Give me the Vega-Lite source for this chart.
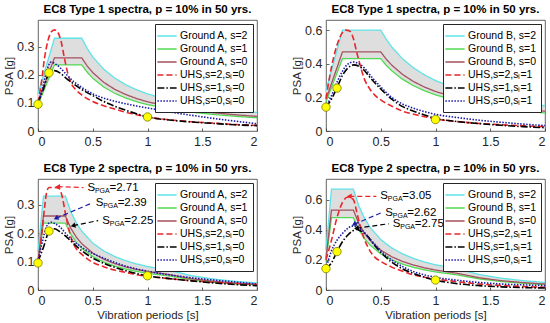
{
"$schema": "https://vega.github.io/schema/vega-lite/v6.json",
"padding": {"left": 2, "top": 3, "right": 0, "bottom": 0},
"datasets": {
"ec8_1": [
{"T":0,"s2":0.132,"s1":0.094,"s0":0.104},{"T":0.15,"s2":0.33,"s1":0.235,"s0":0.26},{"T":0.4,"s2":0.33,"s1":0.235,"s0":0.26},{"T":0.45,"s2":0.2933,"s1":0.2089,"s0":0.2311},{"T":0.5,"s2":0.264,"s1":0.188,"s0":0.208},{"T":0.6,"s2":0.22,"s1":0.1567,"s0":0.1733},{"T":0.7,"s2":0.1886,"s1":0.1343,"s0":0.1486},{"T":0.8,"s2":0.165,"s1":0.1175,"s0":0.13},{"T":0.9,"s2":0.1467,"s1":0.1044,"s0":0.1156},{"T":1,"s2":0.132,"s1":0.094,"s0":0.104},{"T":1.2,"s2":0.11,"s1":0.0783,"s0":0.0867},{"T":1.4,"s2":0.0943,"s1":0.0671,"s0":0.0743},{"T":1.6,"s2":0.0825,"s1":0.0588,"s0":0.065},{"T":1.8,"s2":0.0733,"s1":0.0522,"s0":0.0578},{"T":2,"s2":0.066,"s1":0.047,"s0":0.052}],
"ec8_2": [
{"T":0,"s2":0.24,"s1":0.172,"s0":0.188},{"T":0.15,"s2":0.6,"s1":0.43,"s0":0.47},{"T":0.5,"s2":0.6,"s1":0.43,"s0":0.47},{"T":0.55,"s2":0.5455,"s1":0.3909,"s0":0.4273},{"T":0.6,"s2":0.5,"s1":0.3583,"s0":0.3917},{"T":0.7,"s2":0.4286,"s1":0.3071,"s0":0.3357},{"T":0.8,"s2":0.375,"s1":0.2688,"s0":0.2938},{"T":0.9,"s2":0.3333,"s1":0.2389,"s0":0.2611},{"T":1,"s2":0.3,"s1":0.215,"s0":0.235},{"T":1.2,"s2":0.25,"s1":0.1792,"s0":0.1958},{"T":1.4,"s2":0.2143,"s1":0.1536,"s0":0.1679},{"T":1.6,"s2":0.1875,"s1":0.1344,"s0":0.1469},{"T":1.8,"s2":0.1667,"s1":0.1194,"s0":0.1306},{"T":2,"s2":0.15,"s1":0.1075,"s0":0.1175}],
"ec8_3": [
{"T":0,"s2":0.132,"s1":0.094,"s0":0.104},{"T":0.05,"s2":0.33,"s1":0.235,"s0":0.26},{"T":0.25,"s2":0.33,"s1":0.235,"s0":0.26},{"T":0.3,"s2":0.275,"s1":0.1958,"s0":0.2167},{"T":0.35,"s2":0.2357,"s1":0.1679,"s0":0.1857},{"T":0.4,"s2":0.2063,"s1":0.1469,"s0":0.1625},{"T":0.5,"s2":0.165,"s1":0.1175,"s0":0.13},{"T":0.6,"s2":0.1375,"s1":0.0979,"s0":0.1083},{"T":0.7,"s2":0.1179,"s1":0.0839,"s0":0.0929},{"T":0.8,"s2":0.1031,"s1":0.0734,"s0":0.0813},{"T":0.9,"s2":0.0917,"s1":0.0653,"s0":0.0722},{"T":1,"s2":0.0825,"s1":0.0588,"s0":0.065},{"T":1.2,"s2":0.0688,"s1":0.049,"s0":0.0542},{"T":1.4,"s2":0.0505,"s1":0.036,"s0":0.0398},{"T":1.6,"s2":0.0387,"s1":0.0275,"s0":0.0305},{"T":1.8,"s2":0.0306,"s1":0.0218,"s0":0.0241},{"T":2,"s2":0.0248,"s1":0.0176,"s0":0.0195}],
"ec8_4": [
{"T":0,"s2":0.268,"s1":0.192,"s0":0.212},{"T":0.05,"s2":0.67,"s1":0.48,"s0":0.53},{"T":0.25,"s2":0.67,"s1":0.48,"s0":0.53},{"T":0.3,"s2":0.5583,"s1":0.4,"s0":0.4417},{"T":0.35,"s2":0.4786,"s1":0.3429,"s0":0.3786},{"T":0.4,"s2":0.4188,"s1":0.3,"s0":0.3313},{"T":0.5,"s2":0.335,"s1":0.24,"s0":0.265},{"T":0.6,"s2":0.2792,"s1":0.2,"s0":0.2208},{"T":0.7,"s2":0.2393,"s1":0.1714,"s0":0.1893},{"T":0.8,"s2":0.2094,"s1":0.15,"s0":0.1656},{"T":0.9,"s2":0.1861,"s1":0.1333,"s0":0.1472},{"T":1,"s2":0.1675,"s1":0.12,"s0":0.1325},{"T":1.2,"s2":0.1396,"s1":0.1,"s0":0.1104},{"T":1.4,"s2":0.1026,"s1":0.0735,"s0":0.0811},{"T":1.6,"s2":0.0785,"s1":0.0563,"s0":0.0621},{"T":1.8,"s2":0.062,"s1":0.0444,"s0":0.0491},{"T":2,"s2":0.0503,"s1":0.036,"s0":0.0398}],
"uhs_1": [
{"k":"u2","T":0,"psa":0.1},{"k":"u2","T":0.03,"psa":0.17},{"k":"u2","T":0.06,"psa":0.26},{"k":"u2","T":0.09,"psa":0.32},{"k":"u2","T":0.12,"psa":0.352},{"k":"u2","T":0.15,"psa":0.36},{"k":"u2","T":0.18,"psa":0.352},{"k":"u2","T":0.21,"psa":0.32},{"k":"u2","T":0.24,"psa":0.262},{"k":"u2","T":0.27,"psa":0.208},{"k":"u2","T":0.3,"psa":0.172},{"k":"u2","T":0.35,"psa":0.145},{"k":"u2","T":0.4,"psa":0.128},{"k":"u2","T":0.5,"psa":0.105},{"k":"u2","T":0.6,"psa":0.09},{"k":"u2","T":0.7,"psa":0.078},{"k":"u2","T":0.8,"psa":0.067},{"k":"u2","T":0.9,"psa":0.058},{"k":"u2","T":1,"psa":0.05},{"k":"u2","T":1.2,"psa":0.04},{"k":"u2","T":1.4,"psa":0.033},{"k":"u2","T":1.6,"psa":0.028},{"k":"u2","T":1.8,"psa":0.023},{"k":"u2","T":2,"psa":0.02},
{"k":"u1","T":0,"psa":0.1},{"k":"u1","T":0.05,"psa":0.15},{"k":"u1","T":0.1,"psa":0.205},{"k":"u1","T":0.15,"psa":0.215},{"k":"u1","T":0.2,"psa":0.207},{"k":"u1","T":0.25,"psa":0.19},{"k":"u1","T":0.3,"psa":0.175},{"k":"u1","T":0.4,"psa":0.148},{"k":"u1","T":0.5,"psa":0.126},{"k":"u1","T":0.6,"psa":0.105},{"k":"u1","T":0.7,"psa":0.088},{"k":"u1","T":0.8,"psa":0.074},{"k":"u1","T":0.9,"psa":0.061},{"k":"u1","T":1,"psa":0.05},{"k":"u1","T":1.2,"psa":0.039},{"k":"u1","T":1.4,"psa":0.032},{"k":"u1","T":1.6,"psa":0.027},{"k":"u1","T":1.8,"psa":0.022},{"k":"u1","T":2,"psa":0.019},
{"k":"u0","T":0,"psa":0.1},{"k":"u0","T":0.04,"psa":0.15},{"k":"u0","T":0.08,"psa":0.215},{"k":"u0","T":0.12,"psa":0.245},{"k":"u0","T":0.16,"psa":0.238},{"k":"u0","T":0.2,"psa":0.226},{"k":"u0","T":0.25,"psa":0.205},{"k":"u0","T":0.3,"psa":0.185},{"k":"u0","T":0.4,"psa":0.155},{"k":"u0","T":0.5,"psa":0.132},{"k":"u0","T":0.6,"psa":0.117},{"k":"u0","T":0.7,"psa":0.106},{"k":"u0","T":0.8,"psa":0.097},{"k":"u0","T":0.9,"psa":0.089},{"k":"u0","T":1,"psa":0.082},{"k":"u0","T":1.2,"psa":0.068},{"k":"u0","T":1.4,"psa":0.056},{"k":"u0","T":1.6,"psa":0.045},{"k":"u0","T":1.8,"psa":0.035},{"k":"u0","T":2,"psa":0.026}],
"uhs_2": [
{"k":"u2","T":0,"psa":0.193},{"k":"u2","T":0.05,"psa":0.38},{"k":"u2","T":0.1,"psa":0.51},{"k":"u2","T":0.15,"psa":0.585},{"k":"u2","T":0.18,"psa":0.6},{"k":"u2","T":0.22,"psa":0.592},{"k":"u2","T":0.25,"psa":0.55},{"k":"u2","T":0.28,"psa":0.47},{"k":"u2","T":0.31,"psa":0.395},{"k":"u2","T":0.35,"psa":0.31},{"k":"u2","T":0.4,"psa":0.25},{"k":"u2","T":0.45,"psa":0.21},{"k":"u2","T":0.5,"psa":0.185},{"k":"u2","T":0.6,"psa":0.148},{"k":"u2","T":0.7,"psa":0.118},{"k":"u2","T":0.8,"psa":0.1},{"k":"u2","T":0.9,"psa":0.085},{"k":"u2","T":1,"psa":0.072},{"k":"u2","T":1.2,"psa":0.056},{"k":"u2","T":1.4,"psa":0.045},{"k":"u2","T":1.6,"psa":0.037},{"k":"u2","T":1.8,"psa":0.031},{"k":"u2","T":2,"psa":0.026},
{"k":"u1","T":0,"psa":0.142},{"k":"u1","T":0.05,"psa":0.19},{"k":"u1","T":0.1,"psa":0.257},{"k":"u1","T":0.15,"psa":0.33},{"k":"u1","T":0.2,"psa":0.375},{"k":"u1","T":0.25,"psa":0.393},{"k":"u1","T":0.3,"psa":0.385},{"k":"u1","T":0.35,"psa":0.36},{"k":"u1","T":0.4,"psa":0.32},{"k":"u1","T":0.5,"psa":0.25},{"k":"u1","T":0.6,"psa":0.19},{"k":"u1","T":0.7,"psa":0.145},{"k":"u1","T":0.8,"psa":0.118},{"k":"u1","T":0.9,"psa":0.095},{"k":"u1","T":1,"psa":0.075},{"k":"u1","T":1.2,"psa":0.056},{"k":"u1","T":1.4,"psa":0.044},{"k":"u1","T":1.6,"psa":0.034},{"k":"u1","T":1.8,"psa":0.026},{"k":"u1","T":2,"psa":0.02},
{"k":"u0","T":0,"psa":0.142},{"k":"u0","T":0.05,"psa":0.21},{"k":"u0","T":0.1,"psa":0.29},{"k":"u0","T":0.15,"psa":0.355},{"k":"u0","T":0.2,"psa":0.398},{"k":"u0","T":0.25,"psa":0.41},{"k":"u0","T":0.3,"psa":0.4},{"k":"u0","T":0.35,"psa":0.375},{"k":"u0","T":0.4,"psa":0.335},{"k":"u0","T":0.5,"psa":0.262},{"k":"u0","T":0.6,"psa":0.2},{"k":"u0","T":0.7,"psa":0.16},{"k":"u0","T":0.8,"psa":0.135},{"k":"u0","T":0.9,"psa":0.115},{"k":"u0","T":1,"psa":0.099},{"k":"u0","T":1.2,"psa":0.08},{"k":"u0","T":1.4,"psa":0.064},{"k":"u0","T":1.6,"psa":0.052},{"k":"u0","T":1.8,"psa":0.041},{"k":"u0","T":2,"psa":0.032}],
"uhs_3": [
{"k":"u2","T":0,"psa":0.1},{"k":"u2","T":0.03,"psa":0.18},{"k":"u2","T":0.06,"psa":0.29},{"k":"u2","T":0.08,"psa":0.345},{"k":"u2","T":0.1,"psa":0.36},{"k":"u2","T":0.15,"psa":0.36},{"k":"u2","T":0.19,"psa":0.358},{"k":"u2","T":0.22,"psa":0.33},{"k":"u2","T":0.25,"psa":0.27},{"k":"u2","T":0.28,"psa":0.215},{"k":"u2","T":0.31,"psa":0.175},{"k":"u2","T":0.35,"psa":0.145},{"k":"u2","T":0.4,"psa":0.125},{"k":"u2","T":0.5,"psa":0.097},{"k":"u2","T":0.6,"psa":0.082},{"k":"u2","T":0.7,"psa":0.07},{"k":"u2","T":0.8,"psa":0.062},{"k":"u2","T":0.9,"psa":0.054},{"k":"u2","T":1,"psa":0.048},{"k":"u2","T":1.2,"psa":0.04},{"k":"u2","T":1.4,"psa":0.033},{"k":"u2","T":1.6,"psa":0.027},{"k":"u2","T":1.8,"psa":0.023},{"k":"u2","T":2,"psa":0.019},
{"k":"u1","T":0,"psa":0.1},{"k":"u1","T":0.05,"psa":0.15},{"k":"u1","T":0.1,"psa":0.205},{"k":"u1","T":0.15,"psa":0.215},{"k":"u1","T":0.2,"psa":0.205},{"k":"u1","T":0.25,"psa":0.19},{"k":"u1","T":0.3,"psa":0.172},{"k":"u1","T":0.4,"psa":0.138},{"k":"u1","T":0.5,"psa":0.112},{"k":"u1","T":0.6,"psa":0.094},{"k":"u1","T":0.7,"psa":0.08},{"k":"u1","T":0.8,"psa":0.068},{"k":"u1","T":0.9,"psa":0.058},{"k":"u1","T":1,"psa":0.05},{"k":"u1","T":1.2,"psa":0.04},{"k":"u1","T":1.4,"psa":0.032},{"k":"u1","T":1.6,"psa":0.025},{"k":"u1","T":1.8,"psa":0.019},{"k":"u1","T":2,"psa":0.015},
{"k":"u0","T":0,"psa":0.1},{"k":"u0","T":0.04,"psa":0.17},{"k":"u0","T":0.08,"psa":0.225},{"k":"u0","T":0.12,"psa":0.238},{"k":"u0","T":0.16,"psa":0.232},{"k":"u0","T":0.2,"psa":0.222},{"k":"u0","T":0.25,"psa":0.2},{"k":"u0","T":0.3,"psa":0.18},{"k":"u0","T":0.4,"psa":0.15},{"k":"u0","T":0.5,"psa":0.128},{"k":"u0","T":0.6,"psa":0.112},{"k":"u0","T":0.7,"psa":0.097},{"k":"u0","T":0.8,"psa":0.084},{"k":"u0","T":0.9,"psa":0.074},{"k":"u0","T":1,"psa":0.066},{"k":"u0","T":1.2,"psa":0.053},{"k":"u0","T":1.4,"psa":0.043},{"k":"u0","T":1.6,"psa":0.035},{"k":"u0","T":1.8,"psa":0.028},{"k":"u0","T":2,"psa":0.021}],
"uhs_4": [
{"k":"u2","T":0,"psa":0.2},{"k":"u2","T":0.05,"psa":0.33},{"k":"u2","T":0.1,"psa":0.48},{"k":"u2","T":0.15,"psa":0.58},{"k":"u2","T":0.2,"psa":0.617},{"k":"u2","T":0.25,"psa":0.6},{"k":"u2","T":0.28,"psa":0.52},{"k":"u2","T":0.31,"psa":0.43},{"k":"u2","T":0.34,"psa":0.358},{"k":"u2","T":0.4,"psa":0.262},{"k":"u2","T":0.45,"psa":0.215},{"k":"u2","T":0.5,"psa":0.19},{"k":"u2","T":0.6,"psa":0.152},{"k":"u2","T":0.7,"psa":0.125},{"k":"u2","T":0.8,"psa":0.1},{"k":"u2","T":0.9,"psa":0.085},{"k":"u2","T":1,"psa":0.073},{"k":"u2","T":1.2,"psa":0.055},{"k":"u2","T":1.4,"psa":0.04},{"k":"u2","T":1.6,"psa":0.03},{"k":"u2","T":1.8,"psa":0.023},{"k":"u2","T":2,"psa":0.018},
{"k":"u1","T":0,"psa":0.142},{"k":"u1","T":0.05,"psa":0.18},{"k":"u1","T":0.1,"psa":0.255},{"k":"u1","T":0.15,"psa":0.32},{"k":"u1","T":0.2,"psa":0.365},{"k":"u1","T":0.25,"psa":0.395},{"k":"u1","T":0.28,"psa":0.402},{"k":"u1","T":0.32,"psa":0.39},{"k":"u1","T":0.37,"psa":0.365},{"k":"u1","T":0.45,"psa":0.29},{"k":"u1","T":0.5,"psa":0.25},{"k":"u1","T":0.6,"psa":0.185},{"k":"u1","T":0.7,"psa":0.14},{"k":"u1","T":0.8,"psa":0.11},{"k":"u1","T":0.9,"psa":0.085},{"k":"u1","T":1,"psa":0.066},{"k":"u1","T":1.2,"psa":0.042},{"k":"u1","T":1.4,"psa":0.029},{"k":"u1","T":1.6,"psa":0.021},{"k":"u1","T":1.8,"psa":0.016},{"k":"u1","T":2,"psa":0.013},
{"k":"u0","T":0,"psa":0.142},{"k":"u0","T":0.05,"psa":0.26},{"k":"u0","T":0.1,"psa":0.33},{"k":"u0","T":0.15,"psa":0.375},{"k":"u0","T":0.2,"psa":0.41},{"k":"u0","T":0.24,"psa":0.424},{"k":"u0","T":0.28,"psa":0.42},{"k":"u0","T":0.34,"psa":0.39},{"k":"u0","T":0.4,"psa":0.34},{"k":"u0","T":0.46,"psa":0.292},{"k":"u0","T":0.5,"psa":0.26},{"k":"u0","T":0.6,"psa":0.2},{"k":"u0","T":0.7,"psa":0.155},{"k":"u0","T":0.8,"psa":0.122},{"k":"u0","T":0.9,"psa":0.1},{"k":"u0","T":1,"psa":0.084},{"k":"u0","T":1.2,"psa":0.065},{"k":"u0","T":1.4,"psa":0.05},{"k":"u0","T":1.6,"psa":0.04},{"k":"u0","T":1.8,"psa":0.034},{"k":"u0","T":2,"psa":0.029}],
"pts_1": [{"T":0,"psa":0.095},{"T":0.1,"psa":0.207},{"T":1,"psa":0.05}],
"pts_2": [{"T":0,"psa":0.142},{"T":0.1,"psa":0.255},{"T":1,"psa":0.068}],
"pts_3": [{"T":0,"psa":0.095},{"T":0.1,"psa":0.207},{"T":1,"psa":0.05}],
"pts_4": [{"T":0,"psa":0.142},{"T":0.1,"psa":0.255},{"T":1,"psa":0.066}],
"ann_3": [
{"k":"u2","hx":0.18,"hy":0.363,"tx":0.415,"ty":0.36,"v":"=2.71"},
{"k":"u0","hx":0.164,"hy":0.252,"tx":0.49,"ty":0.305,"v":"=2.39"},
{"k":"u1","hx":0.32,"hy":0.226,"tx":0.55,"ty":0.244,"v":"=2.25"}],
"ann_4": [
{"k":"u2","hx":0.213,"hy":0.622,"tx":0.46,"ty":0.622,"v":"=3.05"},
{"k":"u0","hx":0.256,"hy":0.436,"tx":0.505,"ty":0.513,"v":"=2.62"},
{"k":"u1","hx":0.278,"hy":0.41,"tx":0.573,"ty":0.44,"v":"=2.75"}]
},
"concat": [
{"width":219,"height":111,"title":"EC8 Type 1 spectra,  p = 10% in 50 yrs.",
"layer":[
{"data":{"name":"ec8_1"},"mark":{"type":"area","color":"#dedede","opacity":1},
"encoding":{"x":{"field":"T","type":"quantitative","title":null,"scale":{"domain":[0,2],"nice":false},"axis":{"tickCount":4,"format":"~g"}},
"y":{"field":"s2","type":"quantitative","title":"PSA [g]","scale":{"domain":[0,0.395],"nice":false},"axis":{"tickCount":4,"format":"~g"}},"y2":{"field":"s1"}}},
{"data":{"name":"ec8_1"},"transform":[{"fold":["s2","s1","s0"],"as":["k","psa"]}],"mark":{"type":"line","strokeWidth":1.3},
"encoding":{"x":{"field":"T","type":"quantitative","title":null},"y":{"field":"psa","type":"quantitative","title":"PSA [g]"},
"color":{"field":"k","type":"nominal","scale":{"domain":["s2","s1","s0","u2","u1","u0"],"range":["#5fe3e6","#52d952","#a3525e","#e8262b","#000000","#1a1aa6"]},"legend":{"title":null,"symbolType":"M-1.6,0L1.6,0","labelExpr":"datum.value=='s2'?'Ground A, s=2':datum.value=='s1'?'Ground A, s=1':datum.value=='s0'?'Ground A, s=0':datum.value=='u2'?'UHS,s=2,sₗ=0':datum.value=='u1'?'UHS,s=1,sₗ=0':'UHS,s=0,sₗ=0'"}},
"strokeDash":{"field":"k","type":"nominal","scale":{"domain":["s2","s1","s0","u2","u1","u0"],"range":[[1,0],[1,0],[1,0],[6,3],[7,2,1.5,2],[1.5,1.5]]},"legend":{"title":null,"symbolType":"M-1.6,0L1.6,0","labelExpr":"datum.value=='s2'?'Ground A, s=2':datum.value=='s1'?'Ground A, s=1':datum.value=='s0'?'Ground A, s=0':datum.value=='u2'?'UHS,s=2,sₗ=0':datum.value=='u1'?'UHS,s=1,sₗ=0':'UHS,s=0,sₗ=0'"}}}},
{"data":{"name":"uhs_1"},"mark":{"type":"line","strokeWidth":1.6,"interpolate":"monotone"},
"encoding":{"x":{"field":"T","type":"quantitative","title":null},"y":{"field":"psa","type":"quantitative","title":"PSA [g]"},
"color":{"field":"k","type":"nominal"},"strokeDash":{"field":"k","type":"nominal"}}},
{"data":{"name":"pts_1"},"mark":{"type":"circle","size":70,"color":"#ffff00","stroke":"#7a7a00","strokeWidth":0.8,"opacity":1},
"encoding":{"x":{"field":"T","type":"quantitative","title":null},"y":{"field":"psa","type":"quantitative","title":"PSA [g]"}}}
]},
{"width":219,"height":111,"title":"EC8 Type 1 spectra,  p = 10% in 50 yrs.",
"layer":[
{"data":{"name":"ec8_2"},"mark":{"type":"area","color":"#dedede","opacity":1},
"encoding":{"x":{"field":"T","type":"quantitative","title":null,"scale":{"domain":[0,2],"nice":false},"axis":{"tickCount":4,"format":"~g"}},
"y":{"field":"s2","type":"quantitative","title":"PSA [g]","scale":{"domain":[0,0.66],"nice":false},"axis":{"tickCount":3,"format":"~g"}},"y2":{"field":"s1"}}},
{"data":{"name":"ec8_2"},"transform":[{"fold":["s2","s1","s0"],"as":["k","psa"]}],"mark":{"type":"line","strokeWidth":1.3},
"encoding":{"x":{"field":"T","type":"quantitative","title":null},"y":{"field":"psa","type":"quantitative","title":"PSA [g]"},
"color":{"field":"k","type":"nominal","scale":{"domain":["s2","s1","s0","u2","u1","u0"],"range":["#5fe3e6","#52d952","#a3525e","#e8262b","#000000","#1a1aa6"]},"legend":{"title":null,"symbolType":"M-1.6,0L1.6,0","labelExpr":"datum.value=='s2'?'Ground B, s=2':datum.value=='s1'?'Ground B, s=1':datum.value=='s0'?'Ground B, s=0':datum.value=='u2'?'UHS,s=2,sₗ=1':datum.value=='u1'?'UHS,s=1,sₗ=1':'UHS,s=0,sₗ=1'"}},
"strokeDash":{"field":"k","type":"nominal","scale":{"domain":["s2","s1","s0","u2","u1","u0"],"range":[[1,0],[1,0],[1,0],[6,3],[7,2,1.5,2],[1.5,1.5]]},"legend":{"title":null,"symbolType":"M-1.6,0L1.6,0","labelExpr":"datum.value=='s2'?'Ground B, s=2':datum.value=='s1'?'Ground B, s=1':datum.value=='s0'?'Ground B, s=0':datum.value=='u2'?'UHS,s=2,sₗ=1':datum.value=='u1'?'UHS,s=1,sₗ=1':'UHS,s=0,sₗ=1'"}}}},
{"data":{"name":"uhs_2"},"mark":{"type":"line","strokeWidth":1.6,"interpolate":"monotone"},
"encoding":{"x":{"field":"T","type":"quantitative","title":null},"y":{"field":"psa","type":"quantitative","title":"PSA [g]"},
"color":{"field":"k","type":"nominal"},"strokeDash":{"field":"k","type":"nominal"}}},
{"data":{"name":"pts_2"},"mark":{"type":"circle","size":70,"color":"#ffff00","stroke":"#7a7a00","strokeWidth":0.8,"opacity":1},
"encoding":{"x":{"field":"T","type":"quantitative","title":null},"y":{"field":"psa","type":"quantitative","title":"PSA [g]"}}}
]},
{"width":219,"height":111,"title":"EC8 Type 2 spectra,  p = 10% in 50 yrs.",
"layer":[
{"data":{"name":"ec8_3"},"mark":{"type":"area","color":"#dedede","opacity":1},
"encoding":{"x":{"field":"T","type":"quantitative","title":"Vibration periods [s]","scale":{"domain":[0,2],"nice":false},"axis":{"tickCount":4,"format":"~g"}},
"y":{"field":"s2","type":"quantitative","title":"PSA [g]","scale":{"domain":[0,0.39],"nice":false},"axis":{"tickCount":4,"format":"~g"}},"y2":{"field":"s1"}}},
{"data":{"name":"ec8_3"},"transform":[{"fold":["s2","s1","s0"],"as":["k","psa"]}],"mark":{"type":"line","strokeWidth":1.3},
"encoding":{"x":{"field":"T","type":"quantitative","title":"Vibration periods [s]"},"y":{"field":"psa","type":"quantitative","title":"PSA [g]"},
"color":{"field":"k","type":"nominal","scale":{"domain":["s2","s1","s0","u2","u1","u0"],"range":["#5fe3e6","#52d952","#a3525e","#e8262b","#000000","#1a1aa6"]},"legend":{"title":null,"symbolType":"M-1.6,0L1.6,0","labelExpr":"datum.value=='s2'?'Ground A, s=2':datum.value=='s1'?'Ground A, s=1':datum.value=='s0'?'Ground A, s=0':datum.value=='u2'?'UHS,s=2,sₗ=0':datum.value=='u1'?'UHS,s=1,sₗ=0':'UHS,s=0,sₗ=0'"}},
"strokeDash":{"field":"k","type":"nominal","scale":{"domain":["s2","s1","s0","u2","u1","u0"],"range":[[1,0],[1,0],[1,0],[6,3],[7,2,1.5,2],[1.5,1.5]]},"legend":{"title":null,"symbolType":"M-1.6,0L1.6,0","labelExpr":"datum.value=='s2'?'Ground A, s=2':datum.value=='s1'?'Ground A, s=1':datum.value=='s0'?'Ground A, s=0':datum.value=='u2'?'UHS,s=2,sₗ=0':datum.value=='u1'?'UHS,s=1,sₗ=0':'UHS,s=0,sₗ=0'"}}}},
{"data":{"name":"uhs_3"},"mark":{"type":"line","strokeWidth":1.6,"interpolate":"monotone"},
"encoding":{"x":{"field":"T","type":"quantitative","title":"Vibration periods [s]"},"y":{"field":"psa","type":"quantitative","title":"PSA [g]"},
"color":{"field":"k","type":"nominal"},"strokeDash":{"field":"k","type":"nominal"}}},
{"data":{"name":"pts_3"},"mark":{"type":"circle","size":70,"color":"#ffff00","stroke":"#7a7a00","strokeWidth":0.8,"opacity":1},
"encoding":{"x":{"field":"T","type":"quantitative","title":"Vibration periods [s]"},"y":{"field":"psa","type":"quantitative","title":"PSA [g]"}}},
{"data":{"name":"ann_3"},"mark":{"type":"rule","strokeDash":[5,3],"strokeWidth":1.2},
"encoding":{"x":{"field":"hx","type":"quantitative","title":"Vibration periods [s]"},"y":{"field":"hy","type":"quantitative","title":"PSA [g]"},"x2":{"field":"tx"},"y2":{"field":"ty"},
"stroke":{"field":"k","type":"nominal","scale":{"domain":["u2","u1","u0"],"range":["#e8262b","#000000","#1a1aa6"]},"legend":null}}},
{"data":{"name":"ann_3"},"transform":[{"filter":"datum.k=='u2'"}],"mark":{"type":"point","shape":"triangle-left","filled":true,"size":30,"angle":0,"color":"#e8262b","opacity":1},
"encoding":{"x":{"field":"hx","type":"quantitative","title":"Vibration periods [s]"},"y":{"field":"hy","type":"quantitative","title":"PSA [g]"}}},
{"data":{"name":"ann_3"},"transform":[{"filter":"datum.k=='u0'"}],"mark":{"type":"point","shape":"triangle-left","filled":true,"size":30,"angle":336,"color":"#1a1aa6","opacity":1},
"encoding":{"x":{"field":"hx","type":"quantitative","title":"Vibration periods [s]"},"y":{"field":"hy","type":"quantitative","title":"PSA [g]"}}},
{"data":{"name":"ann_3"},"transform":[{"filter":"datum.k=='u1'"}],"mark":{"type":"point","shape":"triangle-left","filled":true,"size":30,"angle":346,"color":"#000000","opacity":1},
"encoding":{"x":{"field":"hx","type":"quantitative","title":"Vibration periods [s]"},"y":{"field":"hy","type":"quantitative","title":"PSA [g]"}}},
{"data":{"name":"ann_3"},"mark":{"type":"text","text":"S","align":"left","baseline":"middle","dx":4,"fontSize":11.5,"color":"#000000"},
"encoding":{"x":{"field":"tx","type":"quantitative","title":"Vibration periods [s]"},"y":{"field":"ty","type":"quantitative","title":"PSA [g]"}}},
{"data":{"name":"ann_3"},"mark":{"type":"text","text":"PGA","align":"left","baseline":"middle","dx":11.5,"dy":3,"fontSize":7,"color":"#000000"},
"encoding":{"x":{"field":"tx","type":"quantitative","title":"Vibration periods [s]"},"y":{"field":"ty","type":"quantitative","title":"PSA [g]"}}},
{"data":{"name":"ann_3"},"mark":{"type":"text","align":"left","baseline":"middle","dx":26,"fontSize":11.5,"color":"#000000"},
"encoding":{"x":{"field":"tx","type":"quantitative","title":"Vibration periods [s]"},"y":{"field":"ty","type":"quantitative","title":"PSA [g]"},"text":{"field":"v"}}}
]},
{"width":219,"height":111,"title":"EC8 Type 2 spectra,  p = 10% in 50 yrs.",
"layer":[
{"data":{"name":"ec8_4"},"mark":{"type":"area","color":"#dedede","opacity":1},
"encoding":{"x":{"field":"T","type":"quantitative","title":"Vibration periods [s]","scale":{"domain":[0,2],"nice":false},"axis":{"tickCount":4,"format":"~g"}},
"y":{"field":"s2","type":"quantitative","title":"PSA [g]","scale":{"domain":[0,0.737],"nice":false},"axis":{"tickCount":3,"format":"~g"}},"y2":{"field":"s1"}}},
{"data":{"name":"ec8_4"},"transform":[{"fold":["s2","s1","s0"],"as":["k","psa"]}],"mark":{"type":"line","strokeWidth":1.3},
"encoding":{"x":{"field":"T","type":"quantitative","title":"Vibration periods [s]"},"y":{"field":"psa","type":"quantitative","title":"PSA [g]"},
"color":{"field":"k","type":"nominal","scale":{"domain":["s2","s1","s0","u2","u1","u0"],"range":["#5fe3e6","#52d952","#a3525e","#e8262b","#000000","#1a1aa6"]},"legend":{"title":null,"symbolType":"M-1.6,0L1.6,0","labelExpr":"datum.value=='s2'?'Ground B, s=2':datum.value=='s1'?'Ground B, s=1':datum.value=='s0'?'Ground B, s=0':datum.value=='u2'?'UHS,s=2,sₗ=1':datum.value=='u1'?'UHS,s=1,sₗ=1':'UHS,s=0,sₗ=1'"}},
"strokeDash":{"field":"k","type":"nominal","scale":{"domain":["s2","s1","s0","u2","u1","u0"],"range":[[1,0],[1,0],[1,0],[6,3],[7,2,1.5,2],[1.5,1.5]]},"legend":{"title":null,"symbolType":"M-1.6,0L1.6,0","labelExpr":"datum.value=='s2'?'Ground B, s=2':datum.value=='s1'?'Ground B, s=1':datum.value=='s0'?'Ground B, s=0':datum.value=='u2'?'UHS,s=2,sₗ=1':datum.value=='u1'?'UHS,s=1,sₗ=1':'UHS,s=0,sₗ=1'"}}}},
{"data":{"name":"uhs_4"},"mark":{"type":"line","strokeWidth":1.6,"interpolate":"monotone"},
"encoding":{"x":{"field":"T","type":"quantitative","title":"Vibration periods [s]"},"y":{"field":"psa","type":"quantitative","title":"PSA [g]"},
"color":{"field":"k","type":"nominal"},"strokeDash":{"field":"k","type":"nominal"}}},
{"data":{"name":"pts_4"},"mark":{"type":"circle","size":70,"color":"#ffff00","stroke":"#7a7a00","strokeWidth":0.8,"opacity":1},
"encoding":{"x":{"field":"T","type":"quantitative","title":"Vibration periods [s]"},"y":{"field":"psa","type":"quantitative","title":"PSA [g]"}}},
{"data":{"name":"ann_4"},"mark":{"type":"rule","strokeDash":[5,3],"strokeWidth":1.2},
"encoding":{"x":{"field":"hx","type":"quantitative","title":"Vibration periods [s]"},"y":{"field":"hy","type":"quantitative","title":"PSA [g]"},"x2":{"field":"tx"},"y2":{"field":"ty"},
"stroke":{"field":"k","type":"nominal","scale":{"domain":["u2","u1","u0"],"range":["#e8262b","#000000","#1a1aa6"]},"legend":null}}},
{"data":{"name":"ann_4"},"transform":[{"filter":"datum.k=='u2'"}],"mark":{"type":"point","shape":"triangle-left","filled":true,"size":30,"angle":0,"color":"#e8262b","opacity":1},
"encoding":{"x":{"field":"hx","type":"quantitative","title":"Vibration periods [s]"},"y":{"field":"hy","type":"quantitative","title":"PSA [g]"}}},
{"data":{"name":"ann_4"},"transform":[{"filter":"datum.k=='u0'"}],"mark":{"type":"point","shape":"triangle-left","filled":true,"size":30,"angle":332,"color":"#1a1aa6","opacity":1},
"encoding":{"x":{"field":"hx","type":"quantitative","title":"Vibration periods [s]"},"y":{"field":"hy","type":"quantitative","title":"PSA [g]"}}},
{"data":{"name":"ann_4"},"transform":[{"filter":"datum.k=='u1'"}],"mark":{"type":"point","shape":"triangle-left","filled":true,"size":30,"angle":352,"color":"#000000","opacity":1},
"encoding":{"x":{"field":"hx","type":"quantitative","title":"Vibration periods [s]"},"y":{"field":"hy","type":"quantitative","title":"PSA [g]"}}},
{"data":{"name":"ann_4"},"mark":{"type":"text","text":"S","align":"left","baseline":"middle","dx":4,"fontSize":11.5,"color":"#000000"},
"encoding":{"x":{"field":"tx","type":"quantitative","title":"Vibration periods [s]"},"y":{"field":"ty","type":"quantitative","title":"PSA [g]"}}},
{"data":{"name":"ann_4"},"mark":{"type":"text","text":"PGA","align":"left","baseline":"middle","dx":11.5,"dy":3,"fontSize":7,"color":"#000000"},
"encoding":{"x":{"field":"tx","type":"quantitative","title":"Vibration periods [s]"},"y":{"field":"ty","type":"quantitative","title":"PSA [g]"}}},
{"data":{"name":"ann_4"},"mark":{"type":"text","align":"left","baseline":"middle","dx":26,"fontSize":11.5,"color":"#000000"},
"encoding":{"x":{"field":"tx","type":"quantitative","title":"Vibration periods [s]"},"y":{"field":"ty","type":"quantitative","title":"PSA [g]"},"text":{"field":"v"}}}
]}
],
"columns": 2,
"spacing": {"row": 48, "column": 69},
"bounds": "flush",
"resolve":{"scale":{"color":"independent","strokeDash":"independent","stroke":"independent","fill":"independent","y":"independent"},"legend":{"color":"independent","strokeDash":"independent"}},
"config": {
"font": "Liberation Sans",
"view": {"stroke": "#3c3c3c", "strokeWidth": 0.8},
"axis": {"domain": false, "grid": false, "tickColor": "#3c3c3c", "tickSize": -3, "tickWidth": 0.8, "labelColor": "#262626", "labelFontSize": 12.5, "labelPadding": 7, "labelOverlap": false, "titleFontSize": 11.5, "titleFontWeight": "normal", "titleColor": "#262626"},
"axisY": {"titleX": -29, "titleBaseline": "middle"},
"axisX": {"titleY": 25, "titleBaseline": "middle"},
"title": {"fontSize": 11.5, "fontWeight": "bold", "color": "#000000", "offset": 5, "baseline": "alphabetic"},
"legend": {"orient": "top-right", "offset": 4, "padding": 5, "strokeColor": "#262626", "fillColor": "#ffffff", "labelFontSize": 10.5, "labelColor": "#000000", "labelOffset": 6, "rowPadding": 0, "symbolSize": 144, "symbolStrokeWidth": 1.6, "labelLimit": 200}
}
}
